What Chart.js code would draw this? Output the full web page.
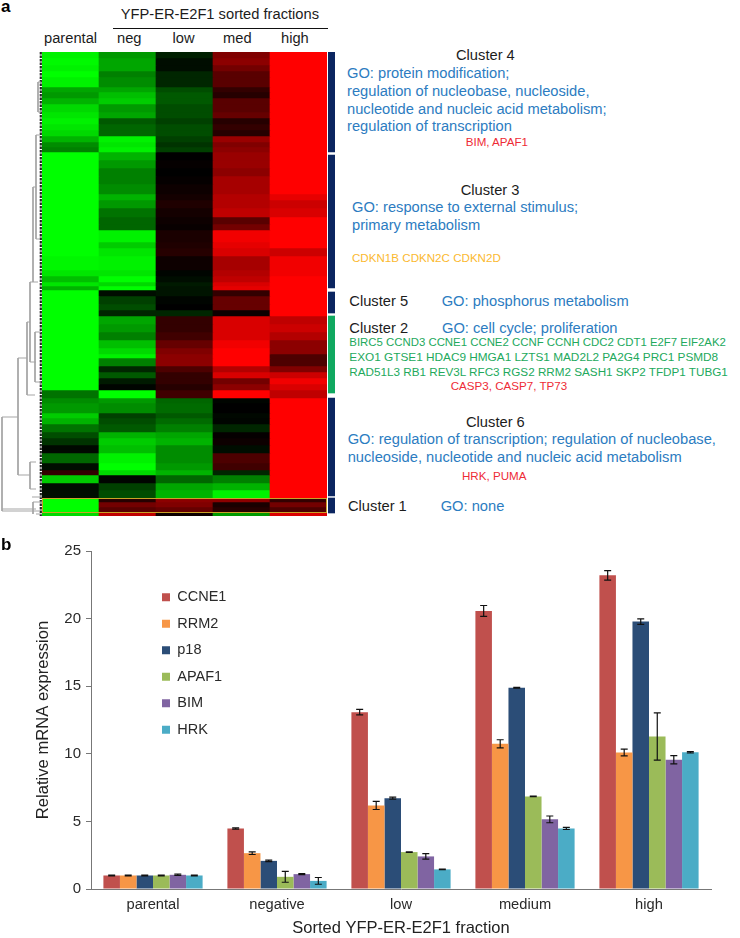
<!DOCTYPE html>
<html><head><meta charset="utf-8">
<style>
html,body{margin:0;padding:0;background:#fff;width:740px;height:938px;overflow:hidden;font-family:"Liberation Sans",Arial,sans-serif}
canvas{position:absolute;display:block}
#heat{filter:blur(.6px)}
.t{position:absolute;white-space:nowrap;transform:translateY(-50%);line-height:1}
.k{font-size:14.7px;color:#1c1c1c}.g{font-size:14.7px;color:#2c7cc1}
.r{font-size:11.6px;color:#ee2b36}.e{font-size:11.6px;color:#22a95c}.o{font-size:11.6px;color:#fbb92f}
.b{font-size:17px;font-weight:bold;color:#000}
#rule{position:absolute;left:113px;top:27.5px;width:215px;height:1.5px;background:#111}
</style></head><body>
<canvas id="dendro" style="left:0;top:52px"></canvas>
<canvas id="heat" style="left:42px;top:52px"></canvas>
<canvas id="side" style="left:328px;top:52px"></canvas>
<canvas id="bars" style="left:0;top:530px"></canvas>
<div id="rule"></div>
<script src="https://cdn.jsdelivr.net/npm/chart.js@4/dist/chart.umd.min.js"></script>
<script>
// ---- panel a: heatmap rows ----
const heatColumns=["parental","neg","low","med","high"];
const rowHeights=[6,7,6,6,10,5,6,6,8,6,6,6,6,6,5,5, 8,8,8,8,10,6,8,9,7,6,12,6,8,14,6,6,4,4, 6,8,6,6, 8,8,8,8,6,4,8,6,6,6,6,8, 5,10,5,6,8,6,7,8,10,7,5,8,7,8, 4,5,5,4];
const parentalRow=[-.95,-.98,-.95,-1,-.95,-.65,-.6,-.7,-.85,-.9,-.95,-.9,-.85,-.7,-.55,-.5, -1,-1,-1,-1,-1,-1,-1,-1,-1,-1,-1,-1,-1,-.97,-.9,-.75,-.9,-.7, -1,-1,-1,-1, -1,-1,-1,-1,-1,-1,-1,-1,-1,-1,-1,-.45, -.55,-.6,-.8,-.7,-.45,-.3,-.2,-.03,-.4,-.05,.2,-.8,-.05,-.05, -1,-1,-1,-.85];
const negRow=[-.6,-.65,-.65,-.5,-.55,-.65,-.75,-.8,-.6,-.65,-.35,-.4,-.4,-.95,-.9,-.95, -.7,-.6,-.5,-.5,-.55,-.7,-.6,-.45,-.4,-.4,-.95,-.8,-.9,-.95,-.9,-1,-.85,-1, -.05,-.25,-.3,-.15, -.65,-.6,-.5,-.75,-.85,-.95,-.5,-.15,-.35,-.1,-.02,-1, -.6,-.55,-.25,-.3,-.35,-.7,-.8,-.75,-.95,-1,-.85,-.02,-.25,-.3, .15,.45,.35,.75];
const lowRow=[-.12,-.05,-.05,-.15,-.15,-.3,-.35,-.35,-.3,-.3,-.25,-.3,-.3,-.25,-.2,-.25, 0,.02,0,.02,.05,.08,.12,.08,.05,.03,.1,.12,.15,.05,-.02,-.05,-.1,-.08, -.08,-.02,0,-.15, .2,.2,.25,.4,.5,.55,.55,.3,.2,.2,.15,.25, -.4,-.42,-.35,-.42,-.5,-.65,-.7,-.55,-.55,-.6,-.7,-.4,-.65,-.7, .55,.5,.4,.05];
const medRow=[.5,.55,.45,.35,.35,.2,.15,.35,.35,.4,.15,.2,.15,.6,.5,.55, .6,.6,.55,.65,.65,.7,.7,.75,.35,.45,.95,.9,.85,.65,.7,.75,.85,.9, .2,.4,.4,.05, .85,.85,.85,.95,1,1,1,.7,.85,.45,.55,1, -.02,0,-.03,-.02,-.15,.02,.05,-.05,.3,.25,-.15,-.5,-.7,-.95, .55,.1,.15,-.6];
const highRow=[1,1,1,1,1,1,1,1,1,1,1,1,1,1,1,1, 1,1,1,1,1,.9,.8,.85,1,1,1,1,.8,.95,.95,1,1,1, 1,1,1,1, .75,.8,.7,.55,.55,.3,.3,.5,.8,.95,.85,.75, 1,1,1,1,1,1,1,1,1,1,1,1,1,1, .2,.45,.3,.85];
const heatTotal=464, boxedFrom=446, boxedTo=460;

// ---- panel a: cluster side bars (row offsets) ----
const clusterSpans=[[0,100],[103,236],[240,261],[264,341],[346,444],[446,461]];
const clusterColors=["#0b2560","#0b2560","#0b2560","#10a860","#0b2560","#0b2560"];

// ---- panel a: dendrogram branches, null separates branches ----
const dendroX=[2,2,null,2,18,null,2,40,null,2,36,null,18,18,null,18,27,null,18,30,null,27,27,null,27,30,null,27,35,null,30,30,null,30,33,null,30,36,null,33,33,null,33,36,null,33,38,null,36,36,null,36,40,null,36,40,null,30,30,null,30,36,null,30,36,null,32,42,null,33,33,null,33,42,null,36,42,null,38,38,null,38,41,null,38,41,null,35,35,null,35,41,null,35,41];
const dendroY=[365,459,null,365,365,null,459,459,null,457,457,null,306,423,null,306,306,null,423,423,null,270,343,null,270,270,null,343,343,null,230,310,null,230,230,null,310,310,null,135,230,null,135,135,null,230,230,null,83,187,null,83,83,null,187,187,null,410,437,null,410,410,null,437,437,null,445,445,null,450,462,null,450,450,null,462,462,null,30,60,null,30,30,null,60,60,null,280,330,null,280,280,null,330,330];

// ---- panel b ----
const fractions=["parental","negative","low","medium","high"];
const seriesNames=["CCNE1","RRM2","p18","APAF1","BIM","HRK"];
const seriesColors=["#c0504d","#f79646","#2b4d77","#9bbb59","#8064a2","#4bacc6"];
const CCNE1=[1.0,4.47,13.08,20.57,23.2];
const RRM2=[1.0,2.65,6.18,10.74,10.1];
const p18=[1.0,2.08,6.72,14.88,19.78];
const APAF1=[1.0,0.9,2.73,6.85,11.28];
const BIM=[1.05,1.1,2.41,5.15,9.56];
const HRK=[1.0,0.6,1.45,4.48,10.12];
const CCNE1err=[.03,.05,.2,.4,.35];
const RRM2err=[.03,.1,.3,.3,.25];
const p18err=[.03,.05,.07,.03,.2];
const APAF1err=[.03,.4,.02,.02,1.75];
const BIMerr=[.05,.03,.2,.25,.3];
const HRKerr=[.03,.25,.02,.08,.05];
const yTicks=[0,5,10,15,20,25];

// ---- labels: [class, left, centre y, text, optional font size] ----
const labels=[
["b",1,6,"a"],["b",1,544,"b"],
["k",120.7,14,"YFP-ER-E2F1 sorted fractions"],
["k",44,37.7,"parental"],["k",117,37.7,"neg"],["k",172.5,37.7,"low"],["k",223,37.7,"med"],["k",281,37.7,"high"],
["k",456,55,"Cluster 4"],
["g",347,73,"GO: protein modification;"],["g",347,91,"regulation of nucleobase, nucleoside,"],["g",347,108.5,"nucleotide and nucleic acid metabolism;"],["g",347,126,"regulation of transcription"],
["r",465.7,142,"BIM, APAF1"],
["k",460.7,190,"Cluster 3"],
["g",352,207,"GO: response to external stimulus;"],["g",352,225,"primary metabolism"],
["o",352,258,"CDKN1B CDKN2C CDKN2D"],
["k",349.3,301,"Cluster 5"],["g",441.7,301,"GO: phosphorus metabolism"],
["k",349.3,328,"Cluster 2"],["g",442,328,"GO: cell cycle; proliferation"],
["e",349.3,343.3,"BIRC5 CCND3 CCNE1 CCNE2 CCNF CCNH CDC2 CDT1 E2F7 EIF2AK2",11.4],
["e",349.3,357.5,"EXO1 GTSE1 HDAC9 HMGA1 LZTS1 MAD2L2 PA2G4 PRC1 PSMD8",11.8],
["e",349.3,371.7,"RAD51L3 RB1 REV3L RFC3 RGS2 RRM2 SASH1 SKP2 TFDP1 TUBG1",11.7],
["r",450.7,386,"CASP3, CASP7, TP73"],
["k",466,421.7,"Cluster 6"],
["g",347.7,439.3,"GO: regulation of transcription; regulation of nucleobase,"],["g",347.7,457,"nucleoside, nucleotide and nucleic acid metabolism"],
["r",462,475.7,"HRK, PUMA"],
["k",348,506,"Cluster 1"],["g",440.7,506,"GO: none"]
];
labels.forEach(function(l){const d=document.createElement('div');d.className='t '+l[0];d.style.left=l[1]+'px';d.style.top=l[2]+'px';if(l[4])d.style.fontSize=l[4]+'px';d.textContent=l[3];document.body.appendChild(d);});

Chart.defaults.font.family='"Liberation Sans",Arial,sans-serif';
Chart.defaults.animation=false;
function size(id,w,h){const c=document.getElementById(id);c.width=w;c.height=h;c.style.width=w+'px';c.style.height=h+'px';return c;}
function heatColor(v){const n=Math.round(Math.abs(v)*255);return v<0?'rgb(0,'+n+',0)':'rgb('+n+',0,0)';}
const noPlugins={legend:{display:false},tooltip:{enabled:false}};

// heatmap
const heatBox={id:'heatBox',afterDatasetsDraw(ch){const y=ch.scales.y,a=ch.chartArea,c=ch.ctx;c.save();c.strokeStyle='#c9a227';c.lineWidth=1;
 c.strokeRect(a.left+.5,y.getPixelForValue(boxedFrom)+.5,a.right-a.left-1,y.getPixelForValue(boxedTo)-y.getPixelForValue(boxedFrom));c.restore();}};
new Chart(size('heat',285,464),{type:'bar',plugins:[heatBox],data:{labels:heatColumns,
 datasets:rowHeights.map(function(h,i){return {data:heatColumns.map(function(){return h;}),
  backgroundColor:[parentalRow[i],negRow[i],lowRow[i],medRow[i],highRow[i]].map(heatColor),borderWidth:0,barPercentage:1,categoryPercentage:1,stack:'s'};})},
 options:{responsive:false,layout:{padding:0},plugins:noPlugins,scales:{x:{display:false,stacked:true},y:{display:false,stacked:true,min:0,max:heatTotal,reverse:true}}}});

// cluster side bars
new Chart(size('side',7,464),{type:'bar',data:{labels:['clusters'],
 datasets:clusterSpans.map(function(s,i){return {data:[s],backgroundColor:clusterColors[i],borderWidth:0,barPercentage:1,categoryPercentage:1,grouped:false};})},
 options:{responsive:false,layout:{padding:0},plugins:noPlugins,scales:{x:{display:false},y:{display:false,min:0,max:heatTotal,reverse:true}}}});

// dendrogram
new Chart(size('dendro',42,464),{type:'line',data:{datasets:[
 {data:dendroX.map(function(x,i){return {x:x,y:dendroY[i]};}),borderColor:'#a5a5a5',borderWidth:1,pointRadius:0,spanGaps:false,tension:0},
 {data:[{x:40.8,y:0},{x:40.8,y:heatTotal}],borderColor:'#222',borderWidth:2.2,borderDash:[2.5,1],pointRadius:0}
 ]},options:{responsive:false,layout:{padding:0},plugins:noPlugins,scales:{x:{type:'linear',display:false,min:0,max:42},y:{display:false,min:0,max:heatTotal,reverse:true}}}});

// bar chart with error bars
const errs=[CCNE1err,RRM2err,p18err,APAF1err,BIMerr,HRKerr];
const errorBars={id:'errorBars',afterDatasetsDraw(ch){const c=ch.ctx,y=ch.scales.y;c.save();c.strokeStyle='#111';c.lineWidth=1.2;
 ch.data.datasets.forEach(function(ds,i){ch.getDatasetMeta(i).data.forEach(function(el,j){const hi=y.getPixelForValue(ds.data[j]+errs[i][j]),lo=y.getPixelForValue(ds.data[j]-errs[i][j]),x=el.x;
  c.beginPath();c.moveTo(x,hi);c.lineTo(x,lo);c.moveTo(x-3.5,hi);c.lineTo(x+3.5,hi);c.moveTo(x-3.5,lo);c.lineTo(x+3.5,lo);c.stroke();});});c.restore();}};
const placeLegend={id:'placeLegend',beforeDraw(ch){const l=ch.legend,w=l.width,h=l.height;l.left=150;l.top=48;l.right=l.left+w;l.bottom=l.top+h;l.adjustHitBoxes();}};
new Chart(size('bars',740,408),{type:'bar',plugins:[errorBars,placeLegend],data:{labels:fractions,
 datasets:[CCNE1,RRM2,p18,APAF1,BIM,HRK].map(function(d,i){return {label:seriesNames[i],data:d,backgroundColor:seriesColors[i],borderWidth:0,barPercentage:1,categoryPercentage:.8};})},
 options:{responsive:false,layout:{padding:{top:21,right:29,left:0,bottom:0}},
 plugins:{tooltip:{enabled:false},legend:{position:'chartArea',align:'start',labels:{boxWidth:8,boxHeight:8,padding:12,color:'#2a2a2a',font:{size:14.5}}}},
 scales:{
  x:{afterFit(s){s.height=49;},grid:{display:false,drawTicks:false},border:{color:'#777',width:1},
     ticks:{color:'#2a2a2a',font:{size:14.7},padding:7,maxRotation:0},
     title:{display:true,text:'Sorted YFP-ER-E2F1 fraction',color:'#222',font:{size:16.5},padding:{top:5,bottom:0}}},
  y:{min:0,max:25,afterFit(s){s.width=91;},afterBuildTicks(s){s.ticks=yTicks.map(function(v){return {value:v};});},
     grid:{drawOnChartArea:false,tickLength:5,color:'#777'},border:{color:'#777',width:1},
     ticks:{color:'#2a2a2a',font:{size:15},padding:5},
     title:{display:true,text:'Relative mRNA expression',color:'#222',font:{size:16.6},padding:{top:33,bottom:0}}}
 }}});
</script>
</body></html>
